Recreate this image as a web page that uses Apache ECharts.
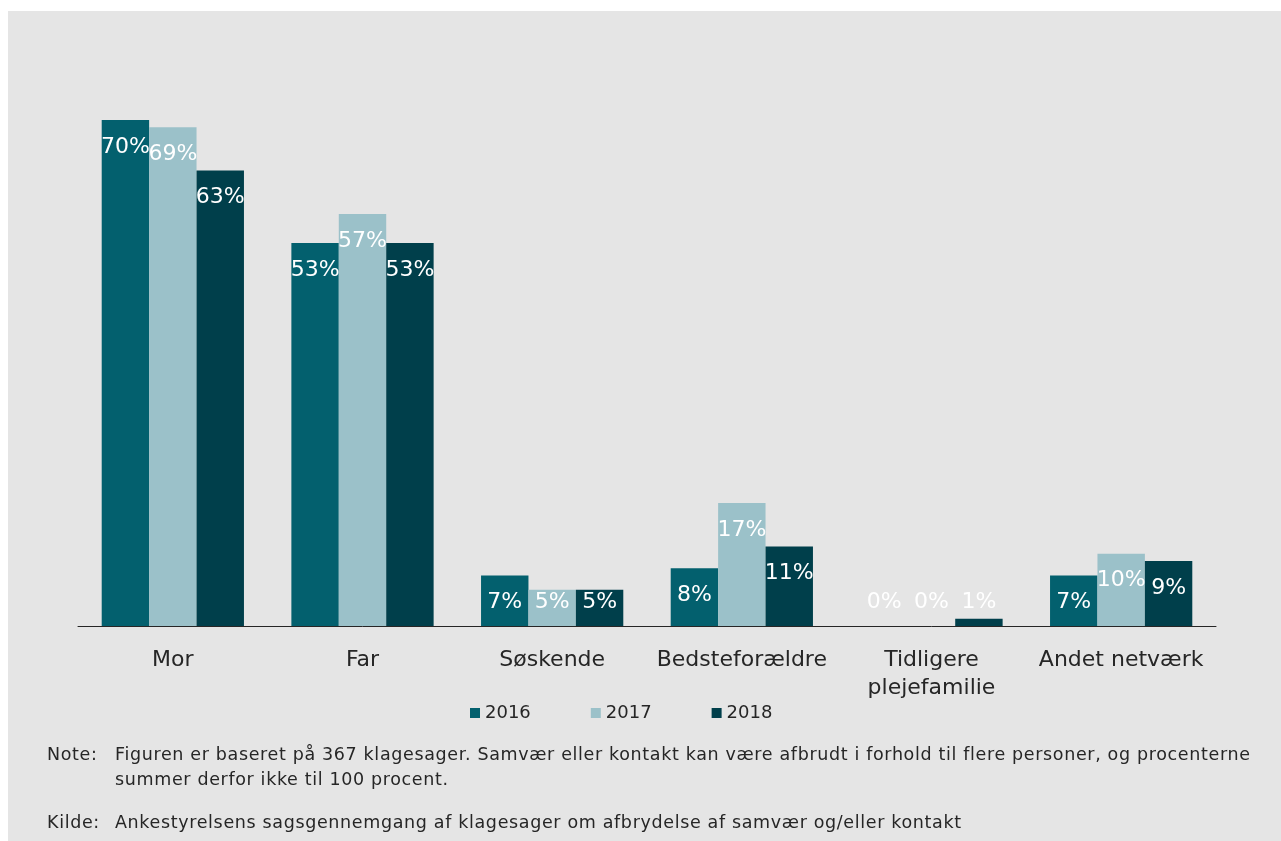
<!DOCTYPE html>
<html>
<head>
<meta charset="utf-8">
<script src="https://cdn.jsdelivr.net/npm/echarts@6/dist/echarts.min.js"></script>
<style>
html,body{margin:0;padding:0;background:#ffffff;}
#bg{position:absolute;left:8px;top:11px;width:1273px;height:830px;background:#e5e5e5;}
#chart{position:absolute;left:0;top:0;width:1281px;height:841px;}
.note{position:absolute;font-family:"DejaVu Sans";font-size:17.5px;line-height:20px;color:#262626;letter-spacing:0.65px;white-space:nowrap;}
</style>
</head>
<body>
<div id="bg"></div>
<div id="chart"></div>
<div id="notes"></div>
<script>
const categories = ['Mor', 'Far', 'Søskende', 'Bedsteforældre', 'Tidligere\nplejefamilie', 'Andet netværk'];
const seriesNames = ['2016', '2017', '2018'];
const values2016 = [70, 53, 7, 8, 0, 7];
const values2017 = [69, 57, 5, 17, 0, 10];
const values2018 = [63, 53, 5, 11, 1, 9];
const colors = ['#03606e', '#9bc1c9', '#003f4b'];
const noteLines = [
  ['Note:', 'Figuren er baseret på 367 klagesager. Samvær eller kontakt kan være afbrudt i forhold til flere personer, og procenterne'],
  ['', 'summer derfor ikke til 100 procent.'],
  ['Kilde:', 'Ankestyrelsens sagsgennemgang af klagesager om afbrydelse af samvær og/eller kontakt']
];
const noteY = [754, 779, 822];

const FONT = 'DejaVu Sans';
function mkData(arr) {
  return arr.map(v => ({
    value: v,
    label: v <= 5 ? { position: 'insideBottom', distance: 13 } : { position: 'insideTop', distance: 16 }
  }));
}
const allVals = [values2016, values2017, values2018];
const series = seriesNames.map((n, i) => ({
  name: n,
  type: 'bar',
  data: mkData(allVals[i]),
  barGap: '0%',
  barCategoryGap: '25%',
  itemStyle: { color: colors[i] },
  label: {
    show: true,
    color: '#ffffff',
    fontFamily: FONT,
    fontSize: 22,
    formatter: p => p.value + '%'
  }
}));

const notesEl = document.getElementById('notes');
noteLines.forEach((l, i) => {
  if (l[0]) {
    const d = document.createElement('div');
    d.className = 'note';
    d.style.left = '47px';
    d.style.top = (noteY[i] - 10) + 'px';
    d.textContent = l[0];
    notesEl.appendChild(d);
  }
  const d2 = document.createElement('div');
  d2.className = 'note';
  d2.style.left = '115px';
  d2.style.top = (noteY[i] - 10) + 'px';
  d2.textContent = l[1];
  notesEl.appendChild(d2);
});

const chart = echarts.init(document.getElementById('chart'));
chart.setOption({
  animation: false,
  backgroundColor: 'transparent',
  grid: { left: 78, right: 65, top: 120, bottom: 215, containLabel: false },
  legend: {
    data: seriesNames,
    left: 465,
    top: 699,
    icon: 'rect',
    itemWidth: 10,
    itemHeight: 10,
    itemGap: 60,
    textStyle: { fontFamily: FONT, fontSize: 18, color: '#262626' }
  },
  xAxis: {
    type: 'category',
    data: categories,
    axisTick: { show: false },
    axisLine: { lineStyle: { color: '#262626', width: 1 } },
    axisLabel: { fontFamily: FONT, fontSize: 22, color: '#262626', margin: 20, lineHeight: 28, interval: 0 }
  },
  yAxis: {
    type: 'value',
    min: 0,
    max: 70,
    show: false,
    splitLine: { show: false }
  },
  series: series
});
</script>
</body>
</html>
